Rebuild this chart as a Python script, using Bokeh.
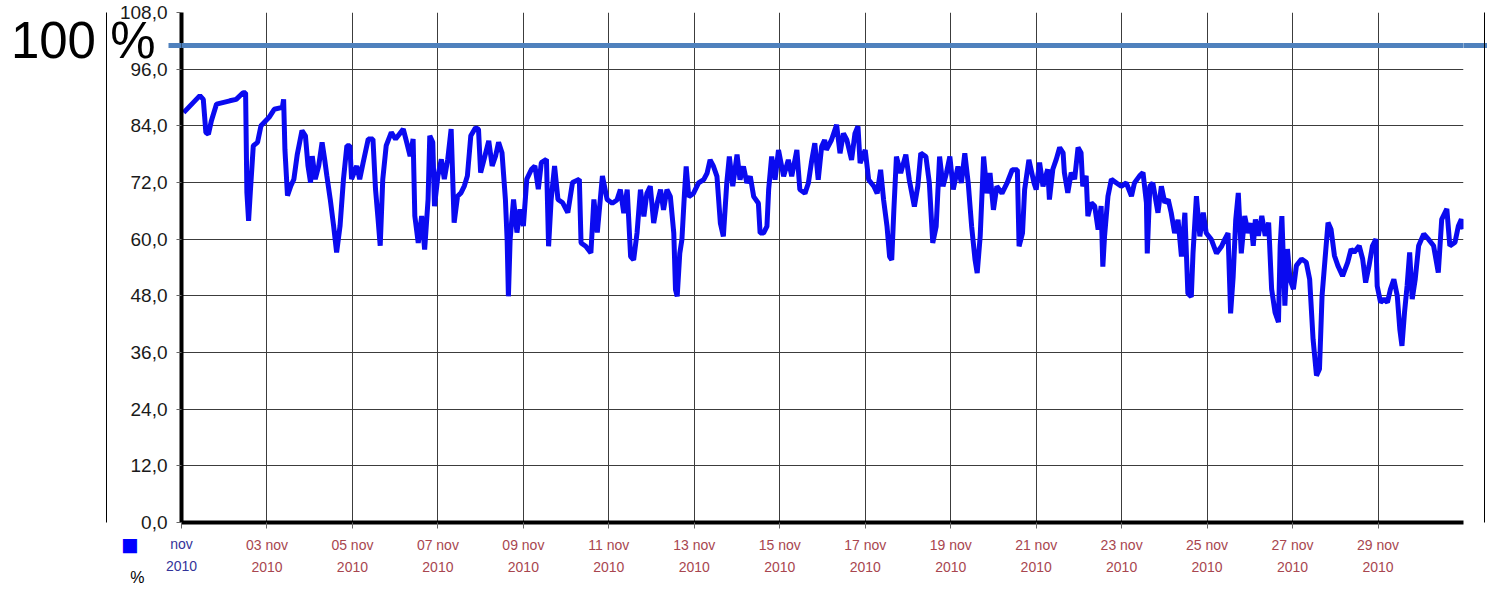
from bokeh.plotting import figure
from bokeh.models import FixedTicker, LinearAxis, Span, Range1d
from bokeh.embed import file_html
from bokeh.resources import INLINE

# ---------------- data (days since 01 nov 2010 00:00, value in %) ----------------
days = [
    0.05, 0.43, 0.51, 0.57, 0.63, 0.70, 0.82, 1.13, 1.28, 1.44, 1.50, 1.53, 1.57, 1.61, 1.68, 1.78, 1.86,
    2.05, 2.17, 2.36, 2.39, 2.42, 2.48, 2.56, 2.63, 2.71, 2.82, 2.90, 2.96, 3.02, 3.06, 3.13, 3.21, 3.29,
    3.35, 3.40, 3.48, 3.56, 3.63, 3.71, 3.79, 3.87, 3.94, 3.98, 4.10, 4.17, 4.25, 4.37, 4.48, 4.54, 4.60,
    4.65, 4.71, 4.79, 4.91, 5.01,
    5.19, 5.27, 5.35, 5.42, 5.46, 5.54, 5.62, 5.69, 5.77, 5.81, 5.88, 5.92, 6.00, 6.08, 6.15, 6.23, 6.31,
    6.38, 6.46, 6.54, 6.62, 6.69, 6.77, 6.88, 6.95, 7.00, 7.08, 7.19, 7.27, 7.35, 7.42, 7.50, 7.58, 7.62,
    7.65, 7.69, 7.77, 7.85, 7.92, 8.00, 8.08, 8.19, 8.27, 8.35, 8.42, 8.54, 8.59, 8.65, 8.73, 8.81, 8.92,
    9.04, 9.15, 9.31, 9.35, 9.46, 9.58, 9.65, 9.73, 9.85, 9.96,
    10.08, 10.19, 10.27, 10.35, 10.43, 10.51, 10.58, 10.66, 10.74, 10.82, 10.89, 10.97, 11.05, 11.13,
    11.21, 11.28, 11.36, 11.44, 11.52, 11.56, 11.60, 11.66, 11.71, 11.77, 11.81, 11.87, 11.98, 12.10,
    12.22, 12.30, 12.37, 12.45, 12.53, 12.61, 12.68, 12.76, 12.82, 12.90, 13.00, 13.07, 13.15, 13.23,
    13.31, 13.39, 13.50, 13.54, 13.62, 13.70, 13.74, 13.81, 13.89, 13.97, 14.09, 14.20, 14.28, 14.40,
    14.47, 14.59, 14.67, 14.75, 14.82, 14.90, 14.98, 15.05,
    15.09, 15.21, 15.33, 15.41, 15.49, 15.57, 15.68, 15.76, 15.83, 15.88, 16.00, 16.08, 16.20, 16.28,
    16.36, 16.43, 16.51, 16.57, 16.62, 16.67, 16.73, 16.83, 16.95, 17.03, 17.15, 17.23, 17.30, 17.42,
    17.50, 17.58, 17.66, 17.74, 17.82, 17.90, 17.98, 18.06, 18.17, 18.25, 18.33, 18.41, 18.49, 18.57,
    18.62, 18.69, 18.77, 18.85, 18.92, 19.00, 19.08, 19.20, 19.32, 19.44, 19.56, 19.60, 19.68, 19.73,
    19.83, 19.95,
    20.00, 20.08, 20.16, 20.27, 20.31, 20.39, 20.47, 20.55, 20.63, 20.66, 20.74, 20.82, 20.90, 20.98,
    21.05, 21.09, 21.17, 21.21, 21.29, 21.37, 21.45, 21.52, 21.56, 21.60, 21.68, 21.76, 21.88, 21.99,
    22.11, 22.23, 22.30, 22.42, 22.50, 22.58, 22.60, 22.66, 22.73, 22.85, 22.93, 23.01, 23.09, 23.16,
    23.24, 23.32, 23.40, 23.48, 23.55, 23.63, 23.67, 23.75, 23.83, 23.91, 23.98, 24.10, 24.22, 24.34,
    24.41, 24.49, 24.55, 24.61, 24.67, 24.73, 24.80, 24.88, 24.96, 25.03,
    25.08, 25.13, 25.20, 25.28, 25.36, 25.44, 25.51, 25.59, 25.67, 25.71, 25.75, 25.82, 25.88, 25.94,
    26.02, 26.09, 26.21, 26.32, 26.40, 26.48, 26.56, 26.63, 26.69, 26.76, 26.83, 26.90, 26.98, 27.06,
    27.17, 27.29, 27.37, 27.44, 27.56, 27.64, 27.71, 27.79, 27.87, 27.95, 27.98, 28.06, 28.14, 28.22,
    28.29, 28.37, 28.45, 28.51, 28.56, 28.62, 28.68, 28.74, 28.80, 28.87, 28.95, 29.07, 29.18, 29.30,
    29.41, 29.49, 29.61, 29.68, 29.80, 29.88, 29.95, 29.99,
]
load_pct = [
    86.8, 90.4, 89.6, 82.6, 82.2, 85.1, 88.6, 89.3, 89.6, 91.0, 91.0, 69.9, 63.9, 69.9, 79.8, 80.5, 84.0,
    85.8, 87.5, 87.9, 89.6, 79.0, 69.2, 71.3, 72.7, 78.0, 83.0, 81.9, 75.5, 72.0, 77.6, 72.7, 75.5, 80.5,
    76.9, 73.5, 68.5, 62.8, 57.2, 62.8, 72.7, 79.8, 79.8, 72.7, 75.5, 72.7, 76.2, 81.2, 81.2, 70.6, 64.2,
    58.6, 72.7, 79.8, 82.6, 81.2,
    83.3, 80.5, 77.6, 81.2, 64.9, 59.2, 64.9, 57.8, 68.4, 81.9, 80.5, 67.0, 73.4, 76.9, 72.7, 76.9, 83.3,
    63.5, 69.1, 69.8, 71.3, 73.4, 81.9, 83.6, 83.3, 74.1, 76.9, 80.8, 75.5, 77.6, 80.5, 78.3, 68.4, 59.9,
    47.9, 59.9, 68.4, 61.4, 66.3, 62.8, 72.7, 74.8, 75.5, 70.6, 76.2, 76.9, 58.5, 68.4, 75.5, 68.4, 67.7,
    65.6, 72.0, 72.7, 59.2, 58.5, 57.1, 68.4, 61.4, 73.4, 68.4,
    67.6, 68.3, 70.5, 65.5, 70.5, 56.3, 55.6, 61.3, 70.5, 64.8, 69.7, 71.2, 63.4, 67.6,
    70.5, 66.2, 70.5, 69.0, 61.3, 49.3, 47.9, 57.0, 59.9, 69.7, 75.4, 69.0, 69.7, 71.9,
    72.6, 74.0, 76.8, 75.4, 73.3, 63.4, 60.6, 71.9, 77.5, 71.2, 77.9, 72.6, 75.4, 71.9,
    73.3, 69.0, 67.6, 61.3, 61.3, 62.7, 70.5, 77.5, 72.6, 78.9, 73.3, 76.8, 73.3, 78.9,
    70.5, 69.7, 71.9, 76.8, 80.3, 72.6, 79.6, 81.0,
    78.9, 81.0, 84.2, 78.2, 82.4, 81.0, 76.8, 82.4, 83.9, 76.1, 78.9, 72.6, 71.2, 69.7,
    74.7, 68.3, 62.7, 56.3, 55.6, 66.2, 77.5, 74.0, 77.9, 72.6, 66.9, 71.2, 78.2, 77.5,
    71.9, 59.2, 62.7, 77.5, 71.2, 74.0, 77.5, 70.5, 75.4, 71.9, 78.2, 71.9, 62.7, 55.6,
    52.8, 60.6, 77.5, 69.7, 74.0, 66.2, 71.2, 69.7, 71.9, 74.7, 74.7, 58.5, 61.3, 70.5,
    76.8, 71.9,
    70.5, 76.2, 71.2, 74.8, 68.4, 74.8, 76.9, 79.4, 78.3, 74.1, 69.8, 74.1, 72.7, 79.4,
    78.3, 71.2, 73.4, 64.9, 67.7, 67.0, 62.0, 67.0, 54.2, 60.6, 69.1, 72.7, 71.9, 71.2,
    71.9, 69.1, 71.9, 73.4, 74.1, 67.7, 57.0, 71.2, 71.9, 65.6, 71.2, 67.7, 68.4, 65.6,
    61.3, 64.1, 56.3, 65.6, 48.5, 47.8, 57.0, 69.1, 60.6, 65.6, 61.3, 59.9, 57.0, 58.5,
    59.9, 61.3, 44.3, 52.1, 64.1, 69.8, 57.0, 64.9, 61.3, 63.4,
    58.6, 64.2, 60.7, 64.9, 60.7, 63.5, 49.4, 44.5, 42.4, 58.6, 64.9, 45.9, 57.9, 51.5,
    49.4, 54.4, 55.8, 55.1, 51.5, 38.8, 31.1, 32.5, 48.0, 55.8, 63.5, 62.1, 56.5, 54.4,
    52.2, 55.1, 57.9, 57.2, 58.6, 55.8, 50.8, 54.4, 58.6, 60.0, 50.1, 46.6, 47.3, 46.6,
    49.4, 51.5, 48.0, 40.9, 37.4, 44.5, 50.1, 57.2, 47.3, 51.5, 58.6, 61.1, 60.0, 58.6,
    52.9, 64.2, 66.4, 58.6, 59.3, 62.8, 64.2, 62.1,
]

x_ticks = [0, 2, 4, 6, 8, 10, 12, 14, 16, 18, 20, 22, 24, 26, 28]
x_tick_labels = ["nov\n2010", "03 nov\n2010", "05 nov\n2010", "07 nov\n2010", "09 nov\n2010",
                 "11 nov\n2010", "13 nov\n2010", "15 nov\n2010", "17 nov\n2010", "19 nov\n2010",
                 "21 nov\n2010", "23 nov\n2010", "25 nov\n2010", "27 nov\n2010", "29 nov\n2010"]
y_ticks = [0, 12, 24, 36, 48, 60, 72, 84, 96, 108]
y_tick_labels = ["0,0", "12,0", "24,0", "36,0", "48,0", "60,0", "72,0", "84,0", "96,0", "108,0"]
ref_bar_level = 101.0          # where the steel-blue "100 %" bar is drawn
ref_text_level = 102.0         # vertical anchor of the "100 %" text
ref_text = "100 %"
legend_text = "%"
legend_marker = "\u25a0"

# ---------------- layout ----------------
W, H = 1487, 595
L, R, T, B = 181, 24, 12, 73
FONT = "Liberation Sans"
BLUE_LINE = "#0a0af0"
BAR = "#4f81bd"
NBSP = "\u00a0"

p = figure(width=W, height=H, output_backend="svg", toolbar_location=None,
           x_range=Range1d(0, 30), y_range=Range1d(0, 108),
           min_border_left=L, min_border_right=R, min_border_top=T, min_border_bottom=B)
p.outline_line_color = None
p.background_fill_color = "white"
p.border_fill_color = "white"

xaxis = p.xaxis[0]
yaxis = p.yaxis[0]

# primary x axis
xaxis.ticker = FixedTicker(ticks=x_ticks)
ov = {t: lab for t, lab in zip(x_ticks, x_tick_labels)}
ov[x_ticks[0]] = " "
xaxis.major_label_overrides = ov
xaxis.axis_line_width = 4
xaxis.axis_line_color = "black"
xaxis.major_tick_out = 6
xaxis.major_tick_in = 0
xaxis.major_tick_line_color = "#666666"
xaxis.minor_tick_line_color = None
xaxis.major_label_text_color = "#a8464f"
xaxis.major_label_text_font = FONT
xaxis.major_label_text_font_size = "14px"
xaxis.major_label_text_line_height = 1.4
xaxis.major_label_standoff = 8

# primary y axis (minor tick = left stub of the blue bar)
yaxis.ticker = FixedTicker(ticks=y_ticks, minor_ticks=[ref_bar_level])
yaxis.major_label_overrides = {t: lab for t, lab in zip(y_ticks, y_tick_labels)}
yaxis.axis_line_width = 4
yaxis.axis_line_color = "black"
yaxis.major_tick_out = 5
yaxis.major_tick_in = 0
yaxis.major_tick_line_color = "#666666"
yaxis.minor_tick_in = 0
yaxis.minor_tick_out = 13
yaxis.minor_tick_line_color = BAR
yaxis.minor_tick_line_width = 5
yaxis.major_label_text_color = "#1a1a1a"
yaxis.major_label_text_font = FONT
yaxis.major_label_text_font_size = "19px"
yaxis.major_label_standoff = 1

p.xgrid.ticker = FixedTicker(ticks=x_ticks)
p.ygrid.ticker = FixedTicker(ticks=y_ticks)
for g in (p.xgrid, p.ygrid):
    g.grid_line_color = "#3c3c3c"
    g.grid_line_width = 1


def text_axis(ticks, labels, minor=None, **kw):
    ax = LinearAxis(ticker=FixedTicker(ticks=ticks, minor_ticks=minor or []),
                    major_label_overrides={t: lab for t, lab in zip(ticks, labels)},
                    axis_line_color=None, major_tick_line_color=None, minor_tick_line_color=None,
                    major_tick_in=0, major_tick_out=0, minor_tick_in=0, minor_tick_out=0)
    for k, v in kw.items():
        setattr(ax, k, v)
    return ax


# legend marker and legend text (left of the frame, under the x axis)
sq_axis = text_axis([0], [NBSP + "\n" + NBSP + "\n" + legend_marker],
                    major_label_text_color="#0000ff", major_label_text_font=FONT,
                    major_label_text_font_size="29px", major_label_text_line_height=0.71,
                    major_label_standoff=-22)
pct_axis = text_axis([0], [NBSP + "\n" + NBSP + "\n" + legend_text],
                     major_label_text_color="black", major_label_text_font=FONT,
                     major_label_text_font_size="16px", major_label_text_line_height=3.22,
                     major_label_standoff=-28)
spacer = text_axis([0], [NBSP], major_label_text_font=FONT,
                   major_label_text_font_size="16px", major_label_standoff=3)
# page border line + "100 %" text
ref_axis = text_axis([ref_text_level], [ref_text],
                     axis_line_color="black", axis_line_width=1,
                     major_label_text_color="black", major_label_text_font=FONT,
                     major_label_text_font_size="51px", major_label_standoff=-49)
for ax in (sq_axis, pct_axis, spacer, ref_axis):
    p.add_layout(ax, "left")

# first x tick label in its own colour
nov_axis = text_axis([x_ticks[0]], [x_tick_labels[0]],
                     major_label_text_color="#333399", major_label_text_font=FONT,
                     major_label_text_font_size="14px", major_label_text_line_height=1.4,
                     major_label_standoff=-42)
p.add_layout(nov_axis, "below")

# right stub of the blue bar + right page border
bar_axis = text_axis([0], [NBSP], minor=[ref_bar_level],
                     minor_tick_out=24, minor_tick_line_color=BAR, minor_tick_line_width=5,
                     major_label_text_font=FONT, major_label_text_font_size="16px",
                     major_label_standoff=-10)
p.add_layout(bar_axis, "right")
border_axis = text_axis([], [], axis_line_color="black", axis_line_width=1)
p.add_layout(border_axis, "right")

# series
p.line(days, load_pct, line_width=5, line_color=BLUE_LINE)

# the blue "100 %" bar across the frame
p.add_layout(Span(location=ref_bar_level, dimension="width", line_color=BAR, line_width=5))

open("out.html", "w").write(file_html(p, INLINE))
